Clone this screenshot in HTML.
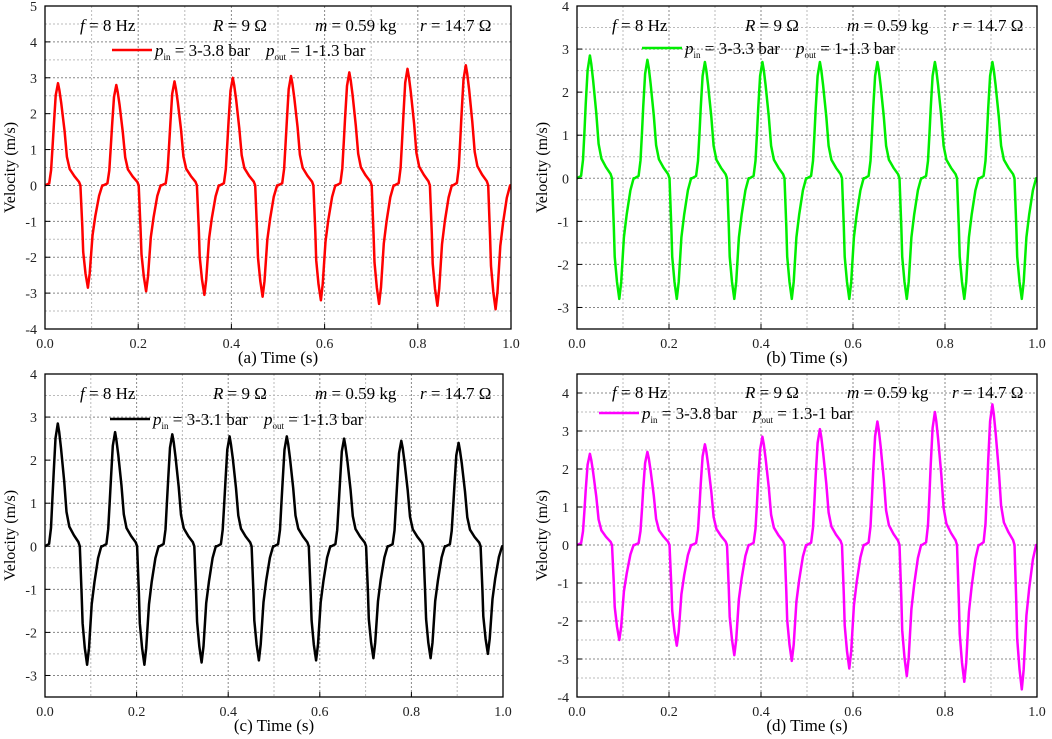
<!DOCTYPE html>
<html><head><meta charset="utf-8">
<style>
html,body{margin:0;padding:0;background:#fff;}
svg{display:block;font-family:"Liberation Serif",serif;}
</style></head>
<body>
<svg id="fig" width="1052" height="739" viewBox="0 0 1052 739"></svg>
<script>
// one-cycle template (time offset in s, normalized velocity)
const cycleT = [0,.009,.013,.016,.019,.023,.028,.031,.035,.042,.047,.053,.063,.073,.076,.08,.082,.087,.092,.096,.102,.108,.116,.123,.125];
const cycleV = [0,.02,.15,.37,.6,.88,1,.93,.8,.53,.28,.16,.09,.035,0,-.4,-.65,-.86,-1,-.86,-.49,-.3,-.1,0,0];
const period = 0.125;
const peaksA = [2.85,2.8,2.9,3.0,3.05,3.15,3.25,3.35];
const troughsA = [-2.85,-2.95,-3.05,-3.1,-3.2,-3.3,-3.35,-3.45];
const peaksB = [2.85,2.75,2.7,2.7,2.7,2.7,2.7,2.7];
const troughsB = [-2.8,-2.8,-2.8,-2.8,-2.8,-2.8,-2.8,-2.8];
const peaksC = [2.85,2.65,2.6,2.55,2.55,2.5,2.45,2.4];
const troughsC = [-2.75,-2.75,-2.7,-2.65,-2.65,-2.6,-2.6,-2.5];
const peaksD = [2.4,2.45,2.65,2.85,3.05,3.25,3.5,3.7];
const troughsD = [-2.5,-2.65,-2.9,-3.05,-3.25,-3.45,-3.6,-3.8];
const xTicks = [0,0.2,0.4,0.6,0.8,1.0];
const xTickLabels = ["0.0","0.2","0.4","0.6","0.8","1.0"];

const NS="http://www.w3.org/2000/svg";
const svg=document.getElementById('fig');
function mk(tag,attrs,parent){const e=document.createElementNS(NS,tag);for(const k in attrs)e.setAttribute(k,attrs[k]);(parent||svg).appendChild(e);return e;}

const panels=[
 {id:'a',L:45,R:511,T:6,B:329,ymin:-4,ymax:5,yt:[-4,-3,-2,-1,0,1,2,3,4,5],color:'#ff0000',peaks:peaksA,troughs:troughsA,pin:'3-3.8',pout:'1-1.3',legX:67,legY:44,parY:19},
 {id:'b',L:577,R:1037,T:6,B:329,ymin:-3.5,ymax:4,yt:[-3,-2,-1,0,1,2,3,4],color:'#00ee00',peaks:peaksB,troughs:troughsB,pin:'3-3.3',pout:'1-1.3',legX:65,legY:42,parY:19},
 {id:'c',L:45,R:503,T:374,B:697,ymin:-3.5,ymax:4,yt:[-3,-2,-1,0,1,2,3,4],color:'#000000',peaks:peaksC,troughs:troughsC,pin:'3-3.1',pout:'1-1.3',legX:65,legY:45,parY:19},
 {id:'d',L:577,R:1037,T:374,B:697,ymin:-4,ymax:4.5,yt:[-4,-3,-2,-1,0,1,2,3,4],color:'#ff00ff',peaks:peaksD,troughs:troughsD,pin:'3-3.8',pout:'1.3-1',legX:22,legY:39,parY:18}
];

panels.forEach(p=>{
 const g=mk('g',{});
 
 
 const xs=t=>p.L+(p.R-p.L)*t;
 const ys=v=>p.B-(p.B-p.T)*(v-p.ymin)/(p.ymax-p.ymin);
 for(let i=1;i<10;i++){const x=xs(i/10);const l=mk('line',{x1:x,x2:x,y1:p.T,y2:p.B,stroke:i%2?'#bbb':'#888','stroke-dasharray':'2,2','stroke-width':1},g);}
 for(let v=Math.ceil(p.ymin*2)/2;v<=p.ymax;v+=0.5){if(v<=p.ymin||v>=p.ymax)continue;const y=ys(v);const major=Number.isInteger(v);const l=mk('line',{x1:p.L,x2:p.R,y1:y,y2:y,stroke:major?'#888':'#bbb','stroke-dasharray':'2,2','stroke-width':1},g);}
 let pts=[];
 for(let c=0;c<8;c++){for(let i=0;i<cycleT.length;i++){const t=c*period+cycleT[i];const v=cycleV[i]>=0?cycleV[i]*p.peaks[c]:-cycleV[i]*p.troughs[c];pts.push(xs(t).toFixed(1)+','+ys(v).toFixed(1));}}
 const pl=mk('polyline',{points:pts.join(' '),fill:'none',stroke:p.color,'stroke-width':2.5,'stroke-linejoin':'round'},g);
 
 
 const fr=mk('rect',{x:p.L,y:p.T,width:p.R-p.L,height:p.B-p.T,fill:'none',stroke:'#000','stroke-width':1.3},g);
 
 
 xTicks.forEach((t,i)=>{const x=xs(t);mk('line',{x1:x,x2:x,y1:p.B,y2:p.B-5,stroke:'#000'},g);
  const tx=mk('text',{x:x,y:p.B+19,'font-size':14,'text-anchor':'middle',fill:'#222'},g);tx.textContent=xTickLabels[i];
  });
 p.yt.forEach(v=>{const y=ys(v);mk('line',{x1:p.L,x2:p.L+5,y1:y,y2:y,stroke:'#000'},g);
  const tx=mk('text',{x:p.L-8,y:y+5,'font-size':14,'text-anchor':'end',fill:'#222'},g);tx.textContent=String(v);
  });
 const yl=mk('text',{x:0,y:0,'font-size':16,'text-anchor':'middle',transform:`translate(${p.L-30},${(p.T+p.B)/2}) rotate(-90)`},g);
 yl.textContent='Velocity (m/s)';
 
 const xl=mk('text',{x:(p.L+p.R)/2,y:p.B+34,'font-size':17,'text-anchor':'middle'},g);
 xl.textContent='('+p.id+') Time (s)';
 
 const py=p.T+p.parY+6;
 const params=[[35,'<tspan font-style="italic">f</tspan> = 8 Hz','param-frequency'],[168,'<tspan font-style="italic">R</tspan> = 9 Ω','param-resistance'],[270,'<tspan font-style="italic">m</tspan> = 0.59 kg','param-mass'],[375,'<tspan font-style="italic">r</tspan> = 14.7 Ω','param-internal-resistance']];
 params.forEach(a=>{const tx=mk('text',{x:p.L+a[0],y:py,'font-size':17},g);tx.innerHTML=a[1];
  });
 const ly=p.T+p.legY;
 const lg=mk('g',{},g);
 
 
 mk('line',{x1:p.L+p.legX,x2:p.L+p.legX+40,y1:ly,y2:ly,stroke:p.color,'stroke-width':2.5},lg);
 const lt=mk('text',{x:p.L+p.legX+43,y:ly+6,'font-size':17},lg);
 lt.innerHTML=`<tspan font-style="italic">p</tspan><tspan font-size="9" dy="4">in</tspan><tspan dy="-4"> = ${p.pin} bar</tspan><tspan font-style="italic" dx="16">p</tspan><tspan font-size="9" dy="4">out</tspan><tspan dy="-4"> = ${p.pout} bar</tspan>`;
});
</script>
</body></html>
